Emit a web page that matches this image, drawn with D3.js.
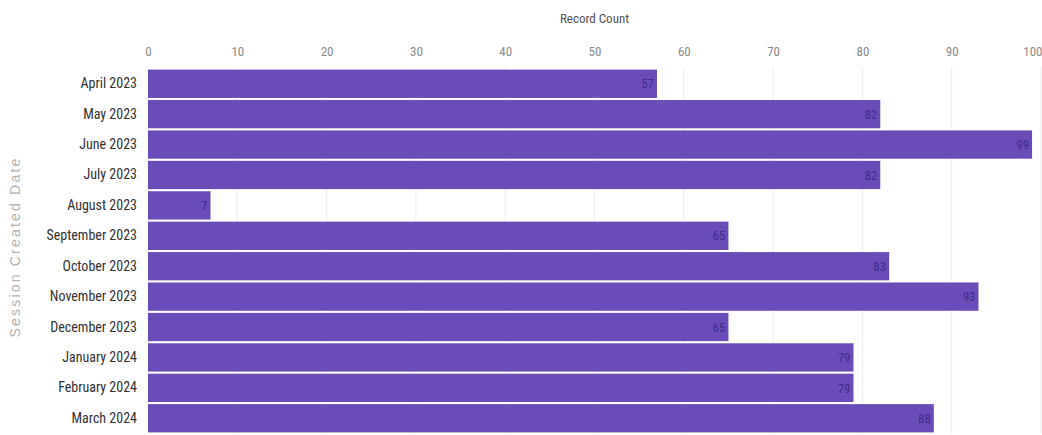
<!DOCTYPE html>
<html>
<head>
<meta charset="utf-8">
<script src="https://cdn.jsdelivr.net/npm/d3@7"></script>
<style>
  html, body { margin: 0; padding: 0; background: #fff; }
  svg { display: block; }
</style>
</head>
<body>
<svg id="chart" width="1042" height="435"></svg>
<script>
// Monthly session record counts
const months = ["April 2023", "May 2023", "June 2023", "July 2023", "August 2023",
  "September 2023", "October 2023", "November 2023", "December 2023",
  "January 2024", "February 2024", "March 2024"];
const recordCounts = [57, 82, 99, 82, 7, 65, 83, 93, 65, 79, 79, 88];
const xTicks = [0, 10, 20, 30, 40, 50, 60, 70, 80, 90, 100];

const svg = d3.select("#chart");
const margin = { top: 69, right: 1, bottom: 2, left: 148 };
const W = 1042, H = 435;

const x = d3.scaleLinear().domain([0, 100]).range([margin.left, W - margin.right]);
const y = d3.scaleBand().domain(months).range([margin.top, H - margin.bottom]).paddingInner(0.07).paddingOuter(0.02);

const font = "'Liberation Sans Narrow', 'Roboto Condensed', 'Liberation Sans', sans-serif";

// Vertical gridlines
svg.append("g")
  .selectAll("line")
  .data(xTicks)
  .join("line")
  .attr("x1", d => x(d)).attr("x2", d => x(d))
  .attr("y1", margin.top - 2).attr("y2", H - margin.bottom)
  .attr("stroke", "#ececec").attr("stroke-width", 1);

// Top axis labels
const xAxis = d3.axisTop(x).tickValues(xTicks).tickSize(0).tickPadding(0);
const gx = svg.append("g").attr("transform", `translate(0, 56)`).call(xAxis);
gx.select(".domain").remove();
gx.selectAll("text")
  .attr("font-family", font).attr("font-size", 13).attr("fill", "#8a8a8a")
  .attr("text-anchor", d => d === 100 ? "end" : "middle")
  .attr("dx", d => d === 100 ? 1 : 0);

// Axis title
svg.append("text")
  .attr("x", (x(0) + x(100)) / 2).attr("y", 23)
  .attr("text-anchor", "middle")
  .attr("font-family", font).attr("font-size", 13).attr("fill", "#555")
  .text("Record Count");

// Bars
svg.append("g")
  .selectAll("rect")
  .data(months)
  .join("rect")
  .attr("x", x(0))
  .attr("y", d => y(d))
  .attr("width", (d, i) => x(recordCounts[i]) - x(0))
  .attr("height", y.bandwidth())
  .attr("fill", "#6a4cb9");

// Value labels inside the bar ends
svg.append("g")
  .selectAll("text")
  .data(months)
  .join("text")
  .attr("x", (d, i) => x(recordCounts[i]) - 3)
  .attr("y", d => y(d) + y.bandwidth() / 2)
  .attr("dy", "0.36em")
  .attr("text-anchor", "end")
  .attr("font-family", font).attr("font-size", 13).attr("fill", "#3f2e8a")
  .text((d, i) => recordCounts[i]);

// Category labels
const yAxis = d3.axisLeft(y).tickSize(0).tickPadding(11);
const gy = svg.append("g").attr("transform", `translate(${margin.left}, 0)`).call(yAxis);
gy.select(".domain").remove();
gy.selectAll("text")
  .attr("font-family", font).attr("font-size", 14).attr("fill", "#333");

// Vertical axis title
svg.append("text")
  .attr("transform", `translate(20, 247) rotate(-90)`)
  .attr("text-anchor", "middle")
  .attr("font-family", "'Liberation Sans', sans-serif").attr("font-size", 14)
  .attr("letter-spacing", 2.2)
  .attr("fill", "#b3b3b3")
  .text("Session Created Date");
</script>
</body>
</html>
